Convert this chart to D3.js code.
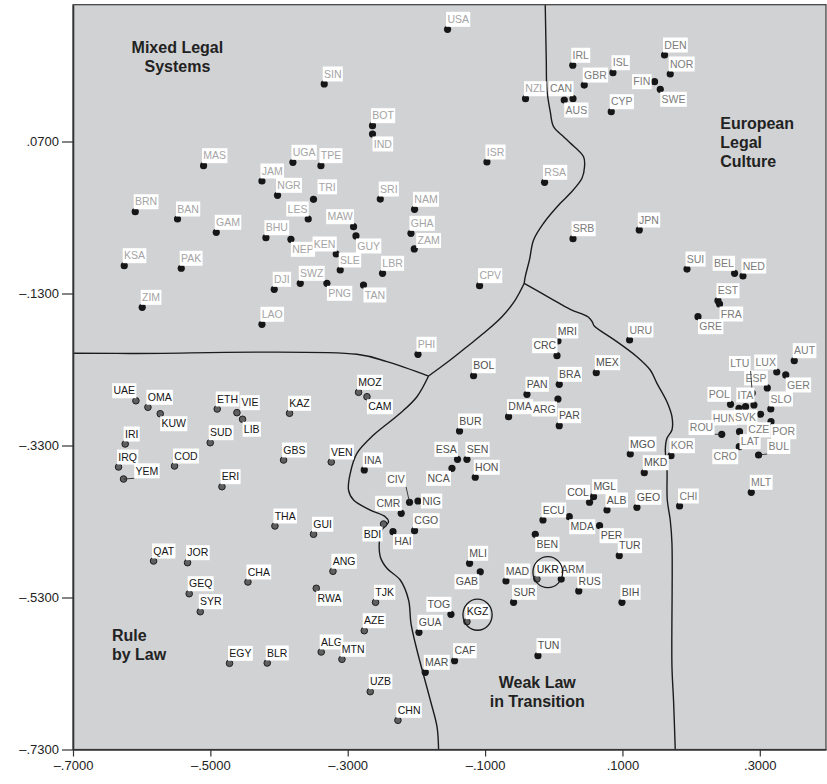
<!DOCTYPE html>
<html>
<head>
<meta charset="utf-8">
<script src="https://cdn.jsdelivr.net/npm/d3@7"></script>
<style>
  html, body { margin: 0; padding: 0; background: #fff; }
  svg { display: block; font-family: "Liberation Sans", Arial, Helvetica, sans-serif; }
</style>
</head>
<body>
<svg id="chart" width="827" height="784"></svg>
<script>
// ---- Country scores: [code, dimension 1, dimension 2] ----
const mixedLegal = [
  ["USA",-0.1546,0.2176],["SIN",-0.3342,0.1457],["NZL",-0.0411,0.1263],["BOT",-0.2639,0.0908],
  ["IND",-0.2639,0.0799],["MAS",-0.5099,0.0382],["UGA",-0.3798,0.0426],["TPE",-0.3390,0.0382],
  ["ISR",-0.0973,0.0430],["JAM",-0.4249,0.0180],["RSA",-0.0134,0.0163],["NGR",-0.4022,-0.0008],
  ["TRI",-0.3498,-0.0061],["SRI",-0.2526,-0.0057],["BRN",-0.6094,-0.0224],["NAM",-0.2027,-0.0192],
  ["BAN",-0.5478,-0.0320],["LES",-0.3575,-0.0320],["MAW",-0.2915,-0.0421],["GAM",-0.4914,-0.0495],
  ["GHA",-0.2079,-0.0508],["GUY",-0.2880,-0.0543],["BHU",-0.4191,-0.0566],["NEP",-0.3827,-0.0587],
  ["ZAM",-0.2031,-0.0714],["KEN",-0.3167,-0.0780],["KSA",-0.6254,-0.0934],["PAK",-0.5424,-0.0968],
  ["SLE",-0.3109,-0.0991],["LBR",-0.2493,-0.1034],["SWZ",-0.3691,-0.1166],["PNG",-0.3303,-0.1166],
  ["TAN",-0.2770,-0.1188],["CPV",-0.1080,-0.1197],["DJI",-0.4070,-0.1245],["ZIM",-0.5992,-0.1482],
  ["LAO",-0.4249,-0.1705],["PHI",-0.1977,-0.2100]
];
const europeanLegal = [
  ["DEN",0.1613,0.1838],["IRL",0.0277,0.1703],["ISL",0.0862,0.1605],["NOR",0.1696,0.1588],
  ["FIN",0.1468,0.1487],["GBR",0.0444,0.1443],["SWE",0.1551,0.1387],["CAN",0.0280,0.1263],
  ["AUS",0.0153,0.1246],["CYP",0.0837,0.1092],["JPN",0.1245,-0.0464],["SRB",0.0280,-0.0579],
  ["SUI",0.1940,-0.0978],["BEL",0.2633,-0.1034],["NED",0.2755,-0.1070],["EST",0.2391,-0.1395],
  ["FRA",0.2414,-0.1438],["GRE",0.2100,-0.1605],["URU",0.1104,-0.1912],["AUT",0.3502,-0.2184],
  ["LUX",0.3247,-0.2333],["GER",0.3378,-0.2372],["ESP",0.3109,-0.2543],["LTU",0.2890,-0.2609],
  ["POL",0.2574,-0.2758],["ITA",0.2915,-0.2767],["SLO",0.3160,-0.2820],["HUN",0.2697,-0.2811],
  ["SVK",0.2793,-0.2789],["CZE",0.3011,-0.2889],["POR",0.3163,-0.2987],["LAT",0.2705,-0.3118],
  ["ROU",0.2446,-0.3153],["CRO",0.2701,-0.3316],["BUL",0.2982,-0.3425],["KOR",0.1707,-0.3434],
  ["MLT",0.2876,-0.3916],["CHI",0.1832,-0.4096]
];
const weakLaw = [
  ["MRI",0.0061,-0.1925],["CRC",0.0047,-0.2118],["MEX",0.0619,-0.2342],["BOL",-0.1168,-0.2382],
  ["BRA",0.0080,-0.2495],["PAN",-0.0390,-0.2626],["ARG",0.0061,-0.2688],["DMA",-0.0658,-0.2921],
  ["PAR",0.0080,-0.3039],["BUR",-0.1372,-0.3109],["MGO",0.1114,-0.3412],["ESA",-0.1401,-0.3482],
  ["SEN",-0.1264,-0.3482],["NCA",-0.1482,-0.3600],["INA",-0.2759,-0.3622],["MKD",0.1318,-0.3658],
  ["HON",-0.1143,-0.3718],["MGL",0.0580,-0.3974],["NIG",-0.1977,-0.4030],["CIV",-0.2100,-0.4047],
  ["COL",0.0521,-0.4047],["GEO",0.1211,-0.4113],["ALB",0.0775,-0.4149],["CMR",-0.2221,-0.4192],
  ["MDA",0.0226,-0.4237],["ECU",-0.0157,-0.4280],["PER",0.0667,-0.4355],["CGO",-0.2027,-0.4421],
  ["HAI",-0.2341,-0.4434],["BEN",-0.0269,-0.4468],["TUR",0.0954,-0.4750],["MLI",-0.1226,-0.4850],
  ["GAB",-0.1070,-0.4961],["MAD",-0.0696,-0.5083],["ARM",0.0109,-0.5057],["RUS",0.0364,-0.5214],
  ["BIH",0.0993,-0.5363],["SUR",-0.0585,-0.5363],["TOG",-0.1497,-0.5521],["GUA",-0.1963,-0.5758],
  ["TUN",-0.0230,-0.6066],["CAF",-0.1444,-0.6132],["MAR",-0.1871,-0.6284]
];
const ruleByLaw = [
  ["UAE",-0.6084,-0.2711],["OMA",-0.5909,-0.2797],["KUW",-0.5730,-0.2882],["ETH",-0.4900,-0.2820],
  ["VIE",-0.4613,-0.2868],["LIB",-0.4531,-0.2955],["KAZ",-0.3847,-0.2876],["MOZ",-0.2842,-0.2600],
  ["CAM",-0.2720,-0.2658],["IRI",-0.6240,-0.3280],["SUD",-0.5002,-0.3263],["GBS",-0.3934,-0.3491],
  ["VEN",-0.3240,-0.3517],["IRQ",-0.6337,-0.3583],["COD",-0.5522,-0.3570],["YEM",-0.6264,-0.3741],
  ["ERI",-0.4831,-0.3842],["THA",-0.4060,-0.4359],["GUI",-0.3498,-0.4468],["BDI",-0.2478,-0.4333],
  ["QAT",-0.5827,-0.4820],["JOR",-0.5332,-0.4842],["ANG",-0.3215,-0.4955],["CHA",-0.4453,-0.5096],
  ["RWA",-0.3458,-0.5179],["GEQ",-0.5308,-0.5250],["TJK",-0.2595,-0.5363],["SYR",-0.5147,-0.5487],
  ["AZE",-0.2759,-0.5737],["ALG",-0.3386,-0.6017],["MTN",-0.3084,-0.6113],["BLR",-0.4172,-0.6162],
  ["EGY",-0.4721,-0.6166],["UZB",-0.2672,-0.6539],["CHN",-0.2269,-0.6916],
  ["UKR",-0.0245,-0.5057],["KGZ",-0.1264,-0.5618]
];
// Countries ringed on the map
const circled = ["UKR","KGZ"];

// ---- Region borders, in the same two dimensions ----
const borderMixedRule = [
  [-0.7000,-0.2087],[-0.6167,-0.2089],[-0.2866,-0.2100],[-0.2429,-0.2197],[-0.1823,-0.2386]
];
const borderMixedWeak = [
  [-0.1823,-0.2386],[-0.1507,-0.2175],[-0.1264,-0.2000],[-0.1022,-0.1824],
  [-0.0754,-0.1605],[-0.0561,-0.1386],[-0.0430,-0.1166]
];
const borderMixedEuropean = [
  [-0.0124,0.2500],[-0.0109,0.1772],[-0.0099,0.1378],[-0.0051,0.1092],[-0.0003,0.0895],
  [0.0143,0.0763],[0.0240,0.0680],[0.0434,0.0500],[0.0448,0.0368],[0.0411,0.0216],
  [0.0240,0.0018],[0.0095,-0.0113],[-0.0149,-0.0376],[-0.0294,-0.0596],[-0.0352,-0.0850],
  [-0.0415,-0.1079],[-0.0430,-0.1166]
];
const borderEuropeanWeak = [
  [-0.0430,-0.1166],[-0.0003,-0.1386],[0.0240,-0.1508],[0.0502,-0.1609],[0.0561,-0.1675],
  [0.0590,-0.1728],[0.0871,-0.1903],[0.1211,-0.2132],[0.1405,-0.2307],[0.1503,-0.2482],
  [0.1648,-0.2724],[0.1721,-0.2921],[0.1721,-0.3096],[0.1648,-0.3205],[0.1624,-0.3359],
  [0.1648,-0.3579],[0.1653,-0.4017],[0.1696,-0.4280],[0.1721,-0.4587],[0.1721,-0.6211],
  [0.1744,-0.6651],[0.1769,-0.7300]
];
const borderRuleWeak = [
  [-0.1823,-0.2386],[-0.1992,-0.2658],[-0.2235,-0.2876],[-0.2624,-0.3162],[-0.2866,-0.3403],
  [-0.2963,-0.3666],[-0.2988,-0.3886],[-0.2915,-0.4017],[-0.2672,-0.4149],[-0.2454,-0.4237],
  [-0.2406,-0.4303],[-0.2502,-0.4412],[-0.2537,-0.4543],[-0.2526,-0.4763],[-0.2429,-0.4916],
  [-0.2235,-0.5070],[-0.2114,-0.5333],[-0.2079,-0.5639],[-0.1992,-0.5991],[-0.1798,-0.6649],
  [-0.1700,-0.7000],[-0.1677,-0.7300]
];

const regionNames = [
  ["Mixed Legal","Systems"],
  ["European","Legal","Culture"],
  ["Rule","by Law"],
  ["Weak Law","in Transition"]
];

const xTicks = [-0.7,-0.5,-0.3,-0.1,0.1,0.3];
const yTicks = [0.07,-0.13,-0.33,-0.53,-0.73];

// ---- Label placement around each dot (default: above right) ----
const labelSide = {
  IND:"se", LES:"nw", MAW:"nw", GUY:"se", NEP:"se", KEN:"nw", PNG:"se", TAN:"se",
  FIN:"w", SWE:"se", CAN:"nw", AUS:"se", BEL:"nw", FRA:"se", GRE:"se", LUX:"nw", GER:"se",
  ESP:"nw", POL:"nw", ITA:"nw", SVK:"s", POR:"se", LAT:"se", CRO:"sw",
  CRC:"nw", ARG:"sw", ESA:"nw", NCA:"sw", NIG:"e", COL:"nw", CMR:"nw", MDA:"se", PER:"se",
  HAI:"se", BEN:"se", GAB:"sw", TOG:"nw",
  UAE:"nw", KUW:"se", LIB:"se", CAM:"se", BDI:"sw", RWA:"se"
};
// labels set apart from their dot: box corner offset, with a leader line
const labelOffset = {
  LTU:[-23.3,-37], CIV:[-23.6,-30.5], ROU:[-33.2,-14.3], BUL:[8.7,-16], YEM:[10.7,-15.7]
};
// small shifts for crowded spots, no leader
const labelNudge = { ZAM:[2,-16], TRI:[4,-20], HUN:[-27.5,2], CZE:[-13.5,8], VIE:[3.3,-17.5] };

// ---- Scales ----
const plot = { left: 73, right: 826, top: 4.7, bottom: 749.5 };
const x = d3.scaleLinear().domain([-0.7, 0.3964]).range([plot.left, plot.right]);
const y = d3.scaleLinear().domain([-0.73, 0.25]).range([plot.bottom, plot.top]);

const svg = d3.select("#chart");

svg.append("defs").append("clipPath").attr("id", "plotClip")
  .append("rect")
  .attr("x", plot.left).attr("y", plot.top)
  .attr("width", plot.right - plot.left).attr("height", plot.bottom - plot.top);

svg.append("rect")
  .attr("x", plot.left).attr("y", plot.top)
  .attr("width", plot.right - plot.left).attr("height", plot.bottom - plot.top)
  .attr("fill", "#d1d2d4");

// Region borders
const borderLine = d3.line()
  .x(d => x(d[0])).y(d => y(d[1]))
  .curve(d3.curveCatmullRom.alpha(0.5));
svg.append("g").attr("clip-path", "url(#plotClip)")
  .selectAll("path")
  .data([borderMixedRule, borderMixedWeak, borderMixedEuropean, borderEuropeanWeak, borderRuleWeak])
  .join("path")
  .attr("d", borderLine)
  .attr("fill", "none")
  .attr("stroke", "#1b1b1b")
  .attr("stroke-width", 1.4);

// Region titles
const titleSpots = [
  { x: -0.548, y: 0.1858, anchor: "middle" },
  { x: 0.2424, y: 0.0858, anchor: "start" },
  { x: -0.6433, y: -0.5872, anchor: "start" },
  { x: -0.0240, y: -0.6495, anchor: "middle" }
];
regionNames.forEach((lines, i) => {
  const spot = titleSpots[i];
  const t = svg.append("text")
    .attr("x", x(spot.x)).attr("y", y(spot.y))
    .attr("text-anchor", spot.anchor)
    .attr("font-size", 16).attr("font-weight", "bold")
    .attr("fill", "#222");
  lines.forEach((ln, j) => {
    t.append("tspan").attr("x", x(spot.x)).attr("dy", j === 0 ? 0 : 18.6).text(ln);
  });
});

const groups = [
  { rows: mixedLegal, text: "#a4a4a4", kind: "solid" },
  { rows: europeanLegal, text: "#7b7b7b", kind: "solid" },
  { rows: weakLaw, text: "#4e4e4e", kind: "solid" },
  { rows: ruleByLaw, text: "#161616", kind: "hollow" }
];

// Dots
const dotLayer = svg.append("g");
groups.forEach(g => {
  dotLayer.selectAll(null)
    .data(g.rows)
    .join("circle")
    .attr("cx", d => x(d[1]))
    .attr("cy", d => y(d[2]))
    .attr("r", g.kind === "solid" ? 3.6 : 3.3)
    .attr("fill", g.kind === "solid" ? "#161616" : "#5f5f5f")
    .attr("stroke", g.kind === "solid" ? "none" : "#1e1e1e")
    .attr("stroke-width", 1);
});

// Labels
const labelLayer = svg.append("g");
const boxH = 15, padX = 1.3;
const boxes = {};
groups.forEach(g => {
  g.rows.forEach(d => {
    const code = d[0];
    const px = x(d[1]), py = y(d[2]);
    const grp = labelLayer.append("g");
    const leader = grp.append("line");
    const rect = grp.append("rect").attr("fill", "#fff");
    const txt = grp.append("text")
      .attr("font-size", 10.5)
      .attr("fill", g.text)
      .text(code);
    const w = txt.node().getComputedTextLength() + padX * 2;
    let bx, by;
    if (labelOffset[code]) {
      bx = px + labelOffset[code][0];
      by = py + labelOffset[code][1];
    } else if (labelNudge[code]) {
      bx = px + labelNudge[code][0];
      by = py + labelNudge[code][1];
    } else {
      const side = labelSide[code] || "ne";
      switch (side) {
        case "nw": bx = px + 0.5 - w; by = py - 17.5; break;
        case "se": bx = px; by = py + 2.5; break;
        case "sw": bx = px - 1 - w; by = py + 2.5; break;
        case "e":  bx = px + 3; by = py - 7.5; break;
        case "w":  bx = px - 3 - w; by = py - 7.5; break;
        case "s":  bx = px - w / 2; by = py + 3; break;
        default:   bx = px - 1.5; by = py - 17.5;
      }
    }
    rect.attr("x", bx).attr("y", by).attr("width", w).attr("height", boxH);
    txt.attr("x", bx + padX).attr("y", by + 11.2);
    if (labelOffset[code]) {
      const lx = Math.max(bx, Math.min(bx + w, px));
      const ly = Math.max(by, Math.min(by + boxH, py));
      leader.attr("x1", px).attr("y1", py).attr("x2", lx).attr("y2", ly)
        .attr("stroke", "#2a2a2a").attr("stroke-width", 0.9);
    } else {
      leader.remove();
    }
    boxes[code] = { bx, by, w, px, py };
  });
});

// Rings around highlighted countries
circled.forEach(code => {
  const b = boxes[code];
  const top = b.by, bottom = b.py + 3.6;
  svg.append("ellipse")
    .attr("cx", b.bx + b.w / 2)
    .attr("cy", (top + bottom) / 2)
    .attr("rx", b.w / 2 + 2.5)
    .attr("ry", (bottom - top) / 2 + 5)
    .attr("fill", "none")
    .attr("stroke", "#1a1a1a")
    .attr("stroke-width", 1.3);
});

// Frame
svg.append("rect")
  .attr("x", plot.left).attr("y", plot.top)
  .attr("width", plot.right - plot.left).attr("height", plot.bottom - plot.top)
  .attr("fill", "none").attr("stroke", "#3a3a3a").attr("stroke-width", 1.2);

// Axes
const fmt = d => (d < -1e-9 ? "\u2013" : "") + Math.abs(d).toFixed(4).replace(/^0/, "");

const xAxis = svg.append("g")
  .attr("transform", `translate(0,${plot.bottom})`)
  .call(d3.axisBottom(x).tickValues(xTicks).tickFormat(fmt).tickSize(7).tickSizeOuter(0).tickPadding(4));
const yAxis = svg.append("g")
  .attr("transform", `translate(${plot.left},0)`)
  .call(d3.axisLeft(y).tickValues(yTicks).tickFormat(fmt).tickSize(11).tickSizeOuter(0).tickPadding(3));

[xAxis, yAxis].forEach(a => {
  a.select(".domain").attr("stroke", "#333").attr("stroke-width", 1.6);
  a.selectAll(".tick line").attr("stroke", "#333").attr("stroke-width", 1.2);
  a.selectAll(".tick text")
    .attr("fill", "#222")
    .attr("font-size", 13)
    .attr("font-family", "\"Liberation Sans\", Arial, Helvetica, sans-serif");
});
</script>
</body>
</html>
